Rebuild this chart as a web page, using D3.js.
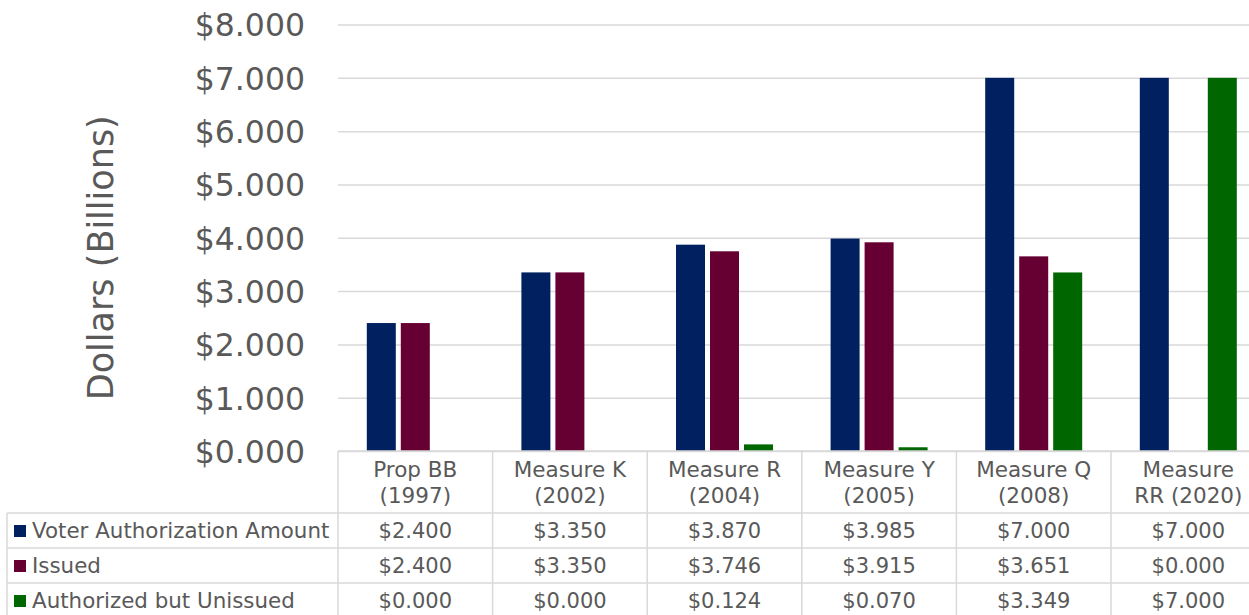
<!DOCTYPE html>
<html lang="en">
<head>
<meta charset="utf-8">
<title>Bond Measures</title>
<script src="https://d3js.org/d3.v7.min.js"></script>
<style>
  body { margin: 0; background: #fff; }
  svg text { font-family: "DejaVu Sans", Verdana, sans-serif; fill: #595959; }
</style>
</head>
<body>
<div id="chart"></div>
<script>
const categories = [["Prop BB", "(1997)"], ["Measure K", "(2002)"], ["Measure R", "(2004)"],
                    ["Measure Y", "(2005)"], ["Measure Q", "(2008)"], ["Measure", "RR (2020)"]]
const seriesNames = ["Voter Authorization Amount", "Issued", "Authorized but Unissued"]
const authorized = [2.400, 3.350, 3.870, 3.985, 7.000, 7.000]
const issued = [2.400, 3.350, 3.746, 3.915, 3.651, 0.000]
const unissued = [0.000, 0.000, 0.124, 0.070, 3.349, 7.000]
const colors = ["#002060", "#660033", "#006600"]
const yTicks = [0, 1, 2, 3, 4, 5, 6, 7, 8]

const width = 1249
const height = 615
const plot = { left: 338, top: 24.5, bottom: 451, catWidth: 154.6 }
const table = { left: 7, headerBottom: 513, rowH: 35 }

const series = [authorized, issued, unissued]
const svg = d3.select('#chart').append('svg')
  .attr('width', width)
  .attr('height', height)

const x0 = d3.scaleBand()
  .domain(d3.range(categories.length))
  .range([plot.left, plot.left + plot.catWidth * categories.length])
  .padding(0)
const x1 = d3.scaleBand()
  .domain(d3.range(series.length))
  .range([0, x0.bandwidth()])
  .paddingInner(0.147)
  .paddingOuter(0.847)
const y = d3.scaleLinear().domain([0, 8]).range([plot.bottom, plot.top])

// gridlines + tick labels
const yAxis = d3.axisLeft(y).tickValues(yTicks)
  .tickSize(-(x0.range()[1] - plot.left))
  .tickPadding(33)
  .tickFormat(d => '$' + d3.format('.3f')(d))
const ag = svg.append('g')
  .attr('transform', `translate(${plot.left},0)`)
  .call(yAxis)
ag.select('.domain').remove()
ag.selectAll('line').attr('stroke', '#d9d9d9').attr('stroke-width', 1.5)
ag.selectAll('text').style('font-size', '31.5px').attr('dy', '0.36em')

svg.append('text')
  .attr('transform', `translate(113, ${(plot.top + plot.bottom) / 2 + 20}) rotate(-90)`)
  .attr('text-anchor', 'middle')
  .style('font-size', '35px')
  .text('Dollars (Billions)')

// bars
const groups = svg.append('g').selectAll('g')
  .data(categories)
  .join('g')
  .attr('transform', (d, i) => `translate(${x0(i)},0)`)
groups.selectAll('rect')
  .data((d, i) => series.map((s, j) => ({ j: j, v: s[i] })))
  .join('rect')
  .attr('x', d => x1(d.j))
  .attr('width', x1.bandwidth())
  .attr('y', d => y(d.v))
  .attr('height', d => y(0) - y(d.v))
  .attr('fill', d => colors[d.j])

// data table
const tg = svg.append('g')
const lineC = '#d9d9d9'
const xRight = x0.range()[1]
const rowTop = i => table.headerBottom + i * table.rowH
tg.append('line').attr('x1', plot.left).attr('x2', xRight).attr('y1', plot.bottom).attr('y2', plot.bottom)
  .attr('stroke', lineC).attr('stroke-width', 1.5)
for (let i = 0; i <= series.length; i++) {
  tg.append('line').attr('x1', table.left).attr('x2', xRight)
    .attr('y1', rowTop(i)).attr('y2', rowTop(i))
    .attr('stroke', lineC).attr('stroke-width', 1.5)
}
tg.append('line').attr('x1', table.left).attr('x2', table.left)
  .attr('y1', rowTop(0)).attr('y2', height)
  .attr('stroke', lineC).attr('stroke-width', 1.5)
d3.range(categories.length + 1).forEach(i => {
  const xx = plot.left + i * plot.catWidth
  tg.append('line').attr('x1', xx).attr('x2', xx)
    .attr('y1', plot.bottom).attr('y2', height)
    .attr('stroke', lineC).attr('stroke-width', 1.5)
})

categories.forEach((c, i) => {
  const cx = x0(i) + x0.bandwidth() / 2
  c.forEach((line, k) => {
    tg.append('text').attr('x', cx).attr('y', 477 + k * 26)
      .attr('text-anchor', 'middle').style('font-size', '21.5px').text(line)
  })
  series.forEach((s, j) => {
    tg.append('text').attr('x', cx).attr('y', rowTop(j) + 25)
      .attr('text-anchor', 'middle').style('font-size', '21px')
      .text('$' + d3.format('.3f')(s[i]))
  })
})

seriesNames.forEach((name, j) => {
  tg.append('rect').attr('x', 14).attr('y', rowTop(j) + 12)
    .attr('width', 12).attr('height', 12).attr('fill', colors[j])
  tg.append('text').attr('x', 32).attr('y', rowTop(j) + 25)
    .style('font-size', '21.4px').text(name)
})
</script>
</body>
</html>
